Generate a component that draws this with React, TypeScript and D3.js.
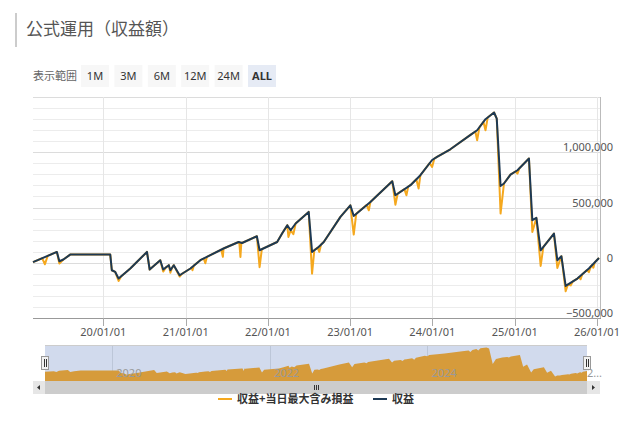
import React from "react";
import * as d3 from "d3";

// ---- data: 収益 (thousand yen) ----
const profitDates = [
  "2019-02-23","2019-06-09","2019-06-20","2019-07-08","2019-08-07","2020-02-01",
  "2020-02-08","2020-02-23","2020-03-09","2020-04-30","2020-07-13","2020-07-25",
  "2020-09-10","2020-09-23","2020-10-18","2020-10-25","2020-11-09","2020-12-05",
  "2021-01-22","2021-03-07","2021-06-18","2021-08-24","2021-09-08","2021-11-13",
  "2021-11-25","2022-02-11","2022-03-05","2022-03-28","2022-04-12","2022-05-04",
  "2022-07-01","2022-07-16","2022-08-14","2022-09-06","2022-11-19","2023-01-02",
  "2023-01-17","2023-04-01","2023-07-07","2023-07-21","2023-09-26","2023-11-09",
  "2023-12-31","2024-01-22","2024-03-21","2024-06-20","2024-07-18","2024-08-24",
  "2024-10-01","2024-10-13","2024-10-30","2024-11-14","2024-12-13","2025-01-13",
  "2025-03-05","2025-03-20","2025-04-07","2025-04-26","2025-06-24","2025-07-09",
  "2025-07-27","2025-08-15","2025-10-06","2025-11-26","2026-01-10",
];
const profit = [
  5, 98, 14, 29, 74, 74,
  -68, -83, -143, -52, 98, -61,
  23, -61, -22, -68, -22, -113,
  -52, 23, 129, 188, 179, 240,
  113, 188, 264, 340, 294, 355,
  460, 98, 143, 188, 415, 520,
  424, 550, 738, 611, 702, 792,
  930, 958, 1027, 1160, 1199, 1299,
  1360, 1305, 695, 717, 798, 837,
  943, 385, 406, 113, 264, 23,
  59, -210, -143, -52, 43,
];

// ---- data: 収益+当日最大含み損益 (thousand yen) ----
const maxDates = [
  "2019-02-23","2019-04-05","2019-04-17","2019-04-29","2019-06-09","2019-06-20",
  "2019-07-08","2019-08-07","2020-02-01","2020-02-08","2020-02-23","2020-03-09",
  "2020-03-20","2020-04-30","2020-07-13","2020-07-25","2020-09-10","2020-09-23",
  "2020-10-05","2020-10-18","2020-10-25","2020-11-02","2020-11-09","2020-12-05",
  "2020-12-15","2021-01-22","2021-01-27","2021-01-31","2021-02-06","2021-03-07",
  "2021-03-22","2021-03-29","2021-04-05","2021-06-08","2021-06-15","2021-06-18",
  "2021-08-24","2021-08-27","2021-09-01","2021-09-05","2021-09-08","2021-11-13",
  "2021-11-25","2021-12-05","2022-02-11","2022-03-05","2022-03-28","2022-04-02",
  "2022-04-12","2022-04-24","2022-05-04","2022-07-01","2022-07-16","2022-07-26",
  "2022-08-10","2022-08-17","2022-08-25","2022-09-06","2022-11-19","2023-01-02",
  "2023-01-17","2023-01-28","2023-03-15","2023-03-25","2023-04-01","2023-07-07",
  "2023-07-21","2023-07-31","2023-08-30","2023-09-08","2023-09-16","2023-09-26",
  "2023-10-22","2023-11-01","2023-11-09","2023-12-20","2023-12-31","2024-01-10",
  "2024-01-22","2024-03-21","2024-06-20","2024-07-10","2024-07-18","2024-07-28",
  "2024-08-15","2024-08-24","2024-09-03","2024-10-01","2024-10-13","2024-10-30",
  "2024-11-14","2024-12-13","2025-01-05","2025-01-13","2025-01-22","2025-03-05",
  "2025-03-20","2025-04-07","2025-04-26","2025-05-08","2025-06-24","2025-07-09",
  "2025-07-27","2025-08-15","2025-08-25","2025-09-06","2025-09-16","2025-10-06",
  "2025-10-14","2025-10-20","2025-10-28","2025-11-18","2025-11-26","2025-12-05",
  "2025-12-10","2025-12-16","2025-12-22","2026-01-10",
];
const profitWithDrawdown = [
  5, 41, -14, 62, 98, -7,
  29, 74, 74, -68, -83, -165,
  -124, -52, 98, -61, 23, -80,
  -42, -22, -90, -43, -22, -125,
  -100, -52, -43, -68, -26, 23,
  38, -4, 53, 119, 53, 129,
  188, 186, 53, 181, 179, 240,
  -40, 123, 188, 264, 340, 234,
  294, 258, 355, 460, -98, 114,
  137, 98, 165, 188, 415, 520,
  255, 443, 523, 475, 550, 738,
  525, 625, 666, 611, 689, 702,
  755, 672, 792, 901, 867, 943,
  958, 1027, 1160, 1188, 1109, 1226,
  1275, 1199, 1315, 1360, 1305, 445,
  717, 798, 827, 807, 856, 943,
  279, 406, -29, 144, 264, -47,
  59, -258, -197, -205, -169, -143,
  -129, -150, -104, -66, -85, -33,
  -22, -45, 3, 43,
];

const yTickValues = [-500000, 0, 500000, 1000000];
const rangeButtons = ["1M", "3M", "6M", "12M", "24M", "ALL"];
const navLabels = ["2020", "2022", "2024", "2026"];
const seriesNames = ["収益+当日最大含み損益", "収益"];

const ORANGE = "#f5a81e";
const NAVY = "#1d3954";
const FONT = "'Noto Sans', 'Noto Sans CJK JP', sans-serif";
const JFONT = "'Noto Sans CJK JP', 'Noto Sans', sans-serif";

export default function App() {
  const parse = d3.timeParse("%Y-%m-%d");
  const darkPts = profitDates.map((d, i) => ({ t: parse(d) as Date, v: profit[i] * 1000 }));
  const orangePts = maxDates.map((d, i) => ({ t: parse(d) as Date, v: profitWithDrawdown[i] * 1000 }));
  const t0 = darkPts[0].t, t1 = darkPts[darkPts.length - 1].t;

  const x = d3.scaleTime().domain([t0, t1]).range([33, 599]);
  const y = d3.scaleLinear().domain([-500000, 1500000]).range([318, 97]);
  const xn = d3.scaleTime().domain([t0, t1]).range([45, 587]);
  const yn = d3.scaleLinear().domain([-510000, 1500000]).range([381, 345]);

  const line = d3.line<any>().x((d) => x(d.t)).y((d) => y(d.v));
  const navArea = d3.area<any>().x((d) => xn(d.t)).y0(381).y1((d) => yn(d.v));

  const grid = d3.range(-500000, 1500001, 100000);
  const yearTicks = d3.timeYear.range(new Date(2020, 0, 1), new Date(2026, 0, 2));
  const fmtX = d3.timeFormat("%y/%m/%d");
  const fmtY = d3.format(",");
  const navYears = navLabels.map((s) => new Date(+s, 0, 1));

  return (
    <div style={{ position: "absolute", left: 0, top: 0 }}>
      <svg width={636} height={426} style={{ display: "block", background: "#fff" }}>
        {/* title */}
        <rect x={15} y={13} width={2} height={34} fill="#cccccc" />
        <text x={26} y={35} fontSize={17} fill="#555" fontFamily={JFONT}>公式運用（収益額）</text>

        {/* range selector */}
        <text x={33} y={80} fontSize={11} fill="#666" fontFamily={JFONT}>表示範囲</text>
        {rangeButtons.map((b, i) => (
          <g key={b}>
            <rect x={81 + i * 33.4} y={65} width={28} height={22} fill={b === "ALL" ? "#e6ebf5" : "#f7f7f7"} />
            <text x={95 + i * 33.4} y={80} fontSize={11} textAnchor="middle" fill="#333"
              fontWeight={b === "ALL" ? "bold" : "normal"} fontFamily={FONT}>{b}</text>
          </g>
        ))}

        {/* grid */}
        {grid.map((v) => (
          <line key={v} x1={33} x2={600} y1={Math.round(y(v)) + 0.5} y2={Math.round(y(v)) + 0.5}
            stroke={v % 500000 === 0 ? "#dcdcdc" : "#ececec"} strokeWidth={1} />
        ))}
        {yearTicks.map((t) => (
          <line key={+t} x1={Math.round(x(t)) + 0.5} x2={Math.round(x(t)) + 0.5} y1={97} y2={318}
            stroke="#e6e6e6" />
        ))}

        {/* series */}
        <path d={line(orangePts) || ""} fill="none" stroke={ORANGE} strokeWidth={2} strokeLinejoin="round" />
        <path d={line(darkPts) || ""} fill="none" stroke={NAVY} strokeWidth={2} strokeLinejoin="round" />

        {/* axes */}
        <line x1={600.5} x2={600.5} y1={97} y2={318} stroke="#bbb" />
        <line x1={33} x2={601} y1={318.5} y2={318.5} stroke="#999" />
        {yearTicks.map((t) => (
          <g key={"t" + +t}>
            <line x1={Math.round(x(t)) + 0.5} x2={Math.round(x(t)) + 0.5} y1={318} y2={326} stroke="#aaa" />
            <text x={x(t)} y={336} fontSize={11} textAnchor="middle" fill="#555" fontFamily={FONT}>{fmtX(t)}</text>
          </g>
        ))}
        {yTickValues.map((v) => (
          <text key={v} x={613} y={y(v) - 1} fontSize={11} textAnchor="end" fill="#555" fontFamily={FONT}>{fmtY(v)}</text>
        ))}

        {/* navigator */}
        <rect x={45} y={345} width={542} height={36} fill="#d1daed" />
        {navYears.slice(0, 3).map((t) => (
          <line key={+t} x1={Math.round(xn(t)) + 0.5} x2={Math.round(xn(t)) + 0.5} y1={345} y2={381} stroke="#bcc6d8" />
        ))}
        <path d={navArea(orangePts) || ""} fill="#d69b3b" />
        {navYears.slice(0, 3).map((t, i) => (
          <text key={"n" + i} x={xn(t) + 4} y={377} fontSize={11} fill="#999" fontFamily={FONT}>{navLabels[i]}</text>
        ))}
        <text x={587} y={377} fontSize={11} fill="#999" fontFamily={FONT}>2…</text>
        <line x1={45} x2={587} y1={345.5} y2={345.5} stroke="#cccccc" />
        {[45, 587].map((hx) => (
          <g key={hx}>
            <rect x={hx - 3.5} y={356.5} width={7} height={13} fill="#f2f2f2" stroke="#999" />
            <line x1={hx - 0.5} x2={hx - 0.5} y1={359} y2={367} stroke="#333" />
            <line x1={hx + 1.5} x2={hx + 1.5} y1={359} y2={367} stroke="#333" />
          </g>
        ))}

        {/* scrollbar */}
        <rect x={33} y={381} width={567} height={13} fill="#f2f2f2" />
        <rect x={45} y={381} width={542} height={13} fill="#cccccc" />
        <rect x={33} y={381} width={12} height={13} fill="#e6e6e6" />
        <rect x={587} y={381} width={13} height={13} fill="#e6e6e6" />
        <path d="M40,385 L37,387.5 L40,390 Z" fill="#333" />
        <path d="M592,385 L595,387.5 L592,390 Z" fill="#333" />
        {[-2, 0, 2].map((dx) => (
          <line key={dx} x1={316 + dx + 0.5} x2={316 + dx + 0.5} y1={385} y2={390} stroke="#333" />
        ))}

        {/* legend */}
        <line x1={218} x2={232} y1={399} y2={399} stroke={ORANGE} strokeWidth={2} />
        <text x={237} y={403} fontSize={11} fontWeight="bold" fill="#333" fontFamily={JFONT}>{seriesNames[0]}</text>
        <line x1={373} x2={387} y1={399} y2={399} stroke={NAVY} strokeWidth={2} />
        <text x={392} y={403} fontSize={11} fontWeight="bold" fill="#333" fontFamily={JFONT}>{seriesNames[1]}</text>
      </svg>
    </div>
  );
}
